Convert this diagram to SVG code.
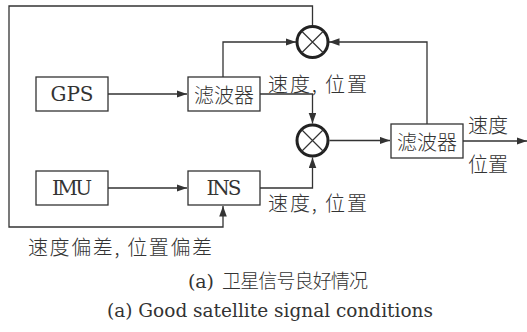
<svg xmlns="http://www.w3.org/2000/svg" width="527" height="332" viewBox="0 0 527 332">
<style>
.box{fill:#fff;stroke:#333;stroke-width:1.3}
.sum{fill:#fff;stroke:#222;stroke-width:3}
.x{stroke:#333;stroke-width:1.2}
.arr{fill:none;stroke:#333;stroke-width:1.3;marker-end:url(#ah)}
.lat{font-family:'DejaVu Serif','Liberation Serif',serif;font-size:20px;fill:#333}
.cjk{font-family:'Noto Sans CJK SC',sans-serif;font-size:20px;fill:#333;font-weight:300}
.cap{font-family:'DejaVu Serif','Liberation Serif',serif;font-size:19px;fill:#333}
.capc{font-family:'Noto Sans CJK SC',sans-serif;font-weight:300;font-size:19px}
</style>
<defs>
<marker id="ah" markerUnits="userSpaceOnUse" markerWidth="11" markerHeight="8" refX="10.5" refY="3.8" orient="auto">
<path d="M0,0 L10.5,3.8 L0,7.6 z" fill="#333"/>
</marker>
</defs>
<rect width="527" height="332" fill="#fff"/>
<g id="connectors">
<path class="arr" d="M108 94 H187"/>
<path class="arr" d="M108 188 H187"/>
<path class="arr" d="M223 77 V42 H296"/>
<path class="arr" d="M260 94 H312.5 V123.5"/>
<path class="arr" d="M260 188 H312.5 V157.5"/>
<path class="arr" d="M329.5 140.5 H390"/>
<path class="arr" d="M427 124 V42 H329"/>
<path class="arr" d="M463 141 H527"/>
<path class="arr" d="M312.5 26 V6 H9 V227 H223 V206"/>
</g>
<g id="gps"><rect class="box" x="36" y="77" width="72" height="34"/><text class="lat" x="72" y="101" text-anchor="middle" textLength="43">GPS</text></g>
<g id="filter1"><rect class="box" x="188" y="77" width="72" height="34"/><text class="cjk" x="224" y="94" text-anchor="middle" dominant-baseline="central">滤波器</text></g>
<g id="imu"><rect class="box" x="36" y="171" width="72" height="34"/><text class="lat" x="72" y="195" text-anchor="middle" textLength="40">IMU</text></g>
<g id="ins"><rect class="box" x="188" y="171" width="72" height="34"/><text class="lat" x="224" y="195" text-anchor="middle" textLength="35">INS</text></g>
<g id="sum1"><circle class="sum" cx="312.5" cy="42" r="15.5"/><path class="x" d="M301.5 31 L323.5 53 M323.5 31 L301.5 53"/></g>
<g id="sum2"><circle class="sum" cx="312.5" cy="140.5" r="15.5"/><path class="x" d="M301.5 129.5 L323.5 151.5 M323.5 129.5 L301.5 151.5"/></g>
<g id="filter2"><rect class="box" x="391" y="124" width="72" height="34"/><text class="cjk" x="427" y="141" text-anchor="middle" dominant-baseline="central">滤波器</text></g>
<g id="labels">
<text class="cjk" x="268" y="83.5" dominant-baseline="central" textLength="99">速度, 位置</text>
<text class="cjk" x="268" y="202.5" dominant-baseline="central" textLength="99">速度, 位置</text>
<text class="cjk" x="468" y="124" dominant-baseline="central">速度</text>
<text class="cjk" x="468" y="163" dominant-baseline="central">位置</text>
<text class="cjk" x="28" y="246.5" dominant-baseline="central" textLength="184">速度偏差, 位置偏差</text>
<text class="cap" x="188" y="288" textLength="26">(a)</text>
<text class="capc" x="222" y="288" fill="#333" textLength="146">卫星信号良好情况</text>
<text class="cap" x="107" y="317" textLength="326" lengthAdjust="spacingAndGlyphs">(a) Good satellite signal conditions</text>
</g>
</svg>
